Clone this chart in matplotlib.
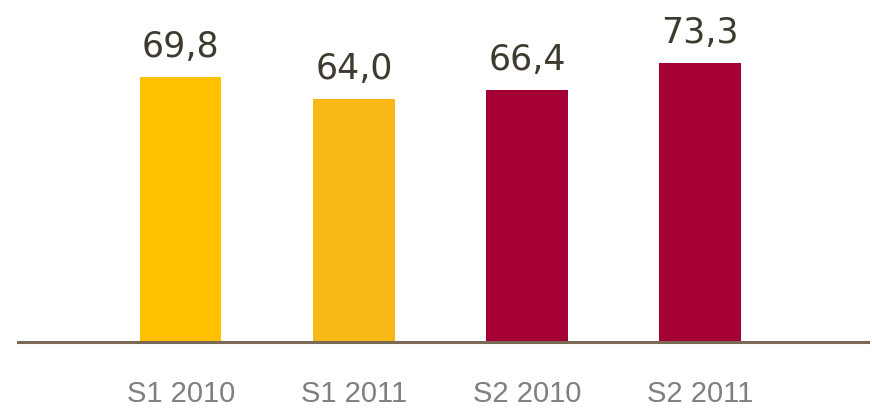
import matplotlib
matplotlib.use("Agg")
import matplotlib.pyplot as plt

categories = ["S1 2010", "S1 2011", "S2 2010", "S2 2011"]
values = [69.8, 64.0, 66.4, 73.3]
labels = ["69,8", "64,0", "66,4", "73,3"]
colors = ["#FFC000", "#FBB917", "#A50034", "#A50034"]

fig = plt.figure(figsize=(8.72, 4.11), dpi=100)
ax = fig.add_axes([18/872, 69/411, 850/872, 342/411])
x = list(range(len(categories)))
ax.bar(x, values, width=0.47, color=colors, zorder=2)
ax.set_xlim(-0.94, 3.97)
ax.set_ylim(0, 90)
for xi, v, lab in zip(x, values, labels):
    ax.annotate(lab, (xi, v), xytext=(0, 14.5), textcoords="offset points",
                ha="center", va="baseline", fontsize=25, color="#3F3A2F",
                family="DejaVu Sans")
for s in ["top", "right", "left"]:
    ax.spines[s].set_visible(False)
ax.spines["bottom"].set_color("#7A6A55")
ax.spines["bottom"].set_linewidth(2.2)
ax.spines["bottom"].set_zorder(3)
ax.set_yticks([])
ax.set_xticks(x)
ax.set_xticklabels(categories, fontsize=21, color="#7F7F7F", family="Liberation Sans")
ax.tick_params(axis="x", length=0, pad=27)
fig.savefig("out.png", dpi=100)
